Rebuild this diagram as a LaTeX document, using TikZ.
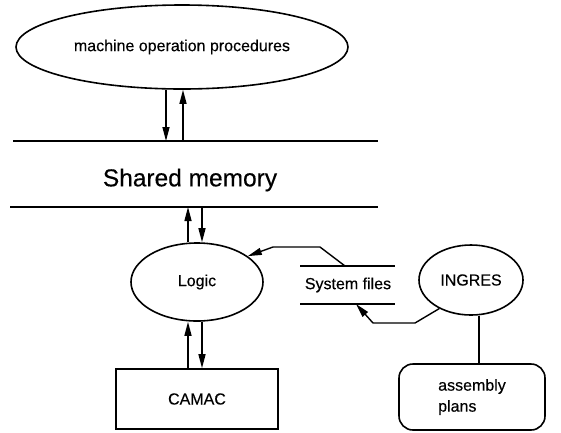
\documentclass[tikz,border=0pt]{standalone}
\usepackage{fontspec}
\setmainfont{Liberation Sans}[FakeBold=0.35]
\usetikzlibrary{arrows.meta,shapes.geometric,calc}
\begin{document}
\begin{tikzpicture}[x=1pt,y=-1pt,
  ln/.style={line width=1.7pt},
  arr/.style={line width=1.4pt,-{Triangle[length=14pt,width=7pt]}},
  txt/.style={font=\fontsize{16}{21}\selectfont},
  ell/.style={draw,ellipse,line width=1.6pt,inner sep=0pt,txt}]
\useasboundingbox (0,0) rectangle (561,432);
% nodes
\node[ell,minimum width=332pt,minimum height=84pt] (mop) at (182,47) {machine operation procedures};
\node[font=\fontsize{24.5}{28}\selectfont] (shm) at (190,180) {Shared memory};
\node[ell,minimum width=132pt,minimum height=78pt] (logic) at (197,282) {Logic};
\node[draw,rectangle,line width=1.6pt,minimum width=162pt,minimum height=60pt,txt] (camac) at (197,399) {CAMAC};
\node[txt] (sysf) at (348,285) {System files};
\node[ell,minimum width=104pt,minimum height=70pt] (ingres) at (471,280) {INGRES};
\node[draw,rounded corners=14pt,line width=1.6pt,minimum width=146pt,minimum height=66pt,txt,align=left] (asm) at (472,397) {assembly\\plans};
% shared memory lines
\coordinate (l1a) at (13,141); \coordinate (l1b) at (378,141);
\coordinate (l2a) at (10,207); \coordinate (l2b) at (378,207);
\draw[ln] (l1a) -- (l1b);
\draw[ln] (l2a) -- (l2b);
% system files lines
\coordinate (s1a) at (300,266); \coordinate (s1b) at (395,266);
\coordinate (s2a) at (300,304); \coordinate (s2b) at (395,304);
\draw[ln] (s1a) -- (s1b);
\draw[ln] (s2a) -- (s2b);
% x positions of vertical arrows
\coordinate (d1) at (166,0); \coordinate (u1) at (183,0);
\coordinate (u2) at (188,0); \coordinate (d2) at (202,0);
\coordinate (c3) at (479,0);
% arrows between procedures and shared memory
\draw[arr] (mop.south -| d1) -- (l1a -| d1);
\draw[arr] (l1a -| u1) -- (mop.south -| u1);
% shared memory and logic
\draw[arr] (logic.north -| u2) -- (l2a -| u2);
\draw[arr] (l2a -| d2) -- (logic.north -| d2);
% logic and CAMAC
\draw[arr] (camac.north -| u2) -- (logic.south -| u2);
\draw[arr] (logic.south -| d2) -- (camac.north -| d2);
% system files to logic
\coordinate (b1) at (345,0);
\coordinate (k1) at (320,247); \coordinate (k2) at (273,247);
\draw[arr,line join=round] (s1a -| b1) -- (k1) -- (k2) -- (logic.27);
% INGRES to system files
\coordinate (k3) at (415,323); \coordinate (k4) at (373,323);
\coordinate (t2) at (356,0);
\draw[arr,line join=round] (ingres.222) -- (k3) -- (k4) -- (s2a -| t2);
% INGRES to assembly plans
\draw[ln] (ingres.south -| c3) -- (asm.north -| c3);
\end{tikzpicture}
\end{document}
